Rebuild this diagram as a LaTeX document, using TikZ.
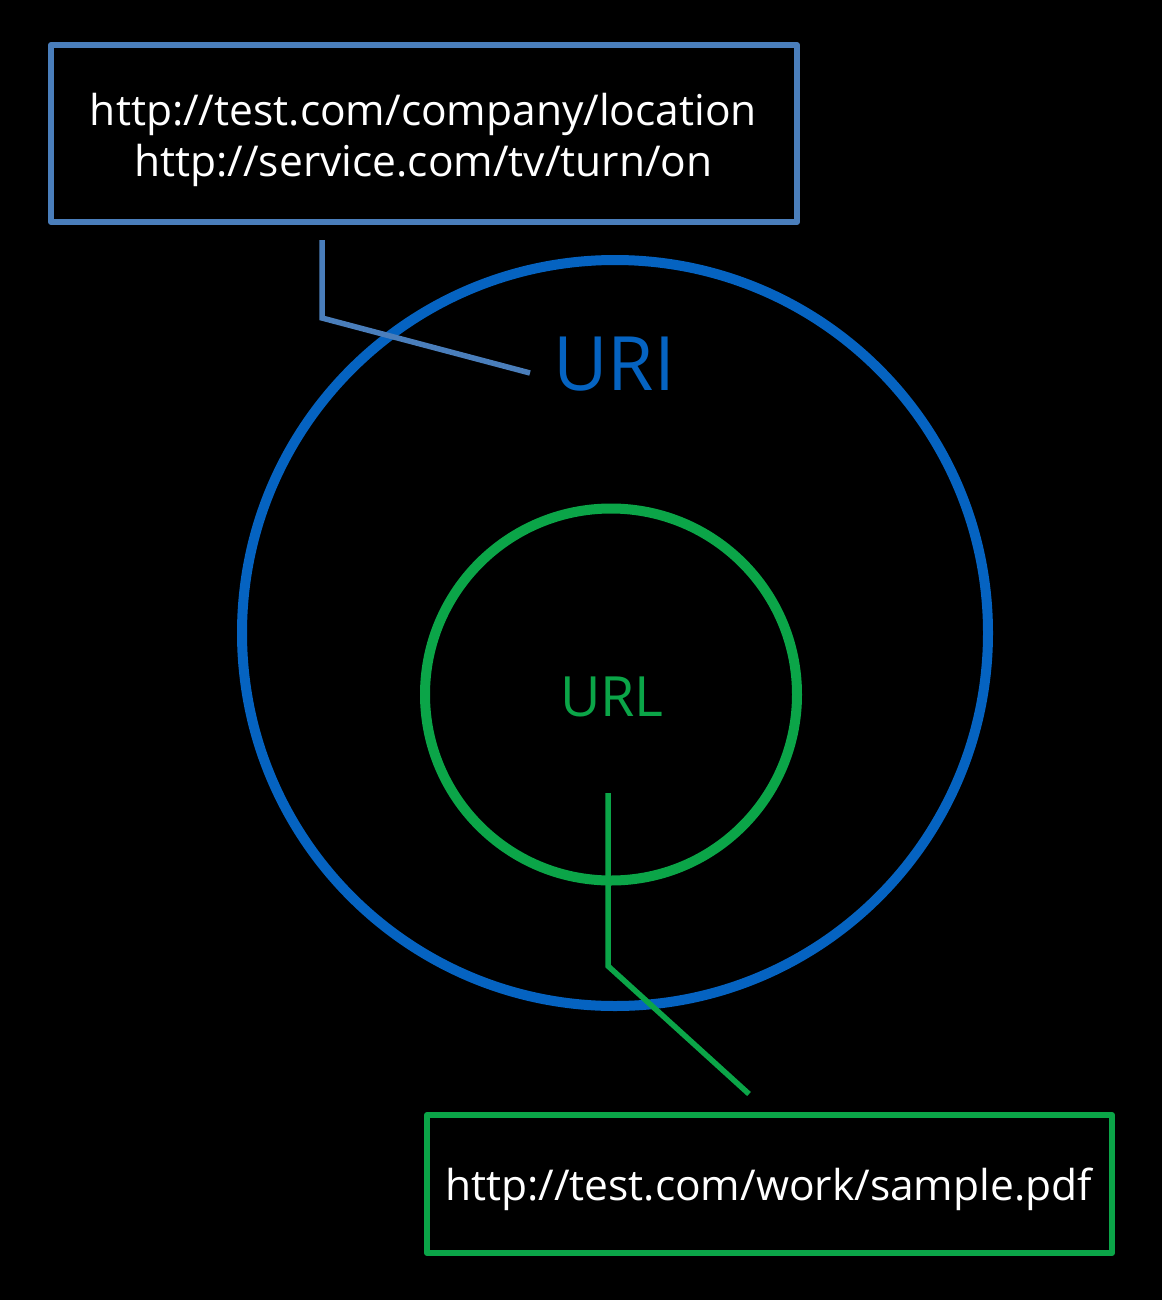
\documentclass[tikz,border=0pt]{standalone}
\usepackage{fontspec}
\setmainfont{Open Sans}
\definecolor{boxblue}{HTML}{4A7EBB}
\definecolor{uriblue}{HTML}{0563C1}
\definecolor{urlgreen}{HTML}{0BA548}
\begin{document}
\begin{tikzpicture}[x=1pt,y=-1pt,
  labelbox/.style={draw,rectangle,line width=6pt,line join=round,inner sep=0pt},
  ring/.style={draw,circle,line width=10pt,inner sep=0pt},
  leader/.style={line width=5.5pt},
  urltext/.style={text=white,font=\fontsize{42.5}{51}\selectfont,align=center}]
\fill[black] (0,0) rectangle (1162,1300);
\useasboundingbox (0,0) rectangle (1162,1300);
\node[labelbox,draw=boxblue,minimum width=746pt,minimum height=177pt] (topbox) at (424,133.5) {};
\node[urltext] (toptext) at (423.5,140) {http://test.com/company/location\\http://service.com/tv/turn/on};
\node[ring,draw=uriblue,minimum size=746pt] (uri) at (615,633) {};
\node[ring,draw=urlgreen,minimum size=372pt] (url) at (611,694.5) {};
\node[text=uriblue,font=\fontsize{75}{90}\selectfont] (urilabel) at (614,364) {URI};
\node[text=urlgreen,font=\fontsize{55.5}{70}\selectfont] (urllabel) at (612,697) {URL};
\node[labelbox,draw=urlgreen,minimum width=685pt,minimum height=138pt] (botbox) at (769.5,1184) {};
\node[urltext] (bottext) at (768.5,1189) {http://test.com/work/sample.pdf};
\coordinate (c1) at (322,240);
\coordinate (c2) at (322,318);
\coordinate (c3) at (530,373);
\coordinate (g1) at (608,793);
\coordinate (g2) at (608,966);
\coordinate (g3) at (749,1094);
\draw[leader,boxblue] (c1) -- (c2) -- (c3);
\draw[leader,urlgreen] (g1) -- (g2) -- (g3);
\end{tikzpicture}
\end{document}
